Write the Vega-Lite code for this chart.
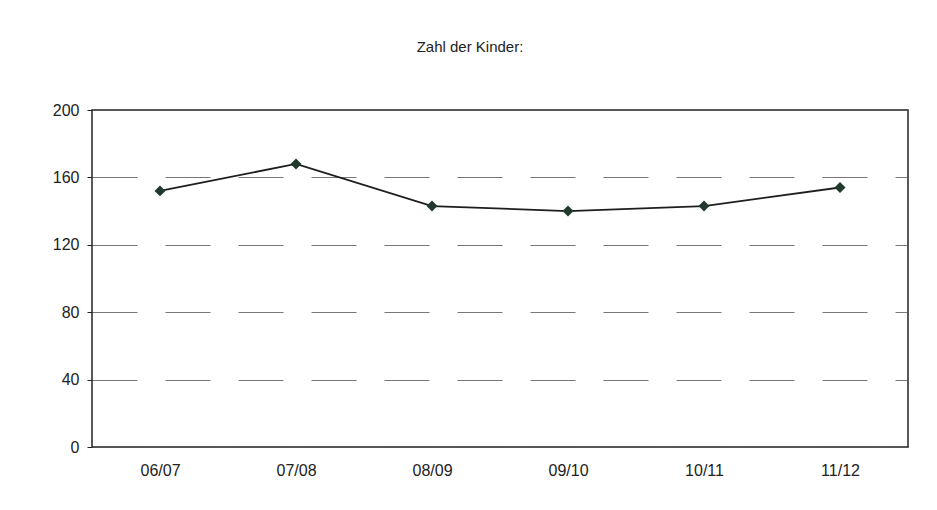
{
  "$schema": "https://vega.github.io/schema/vega-lite/v6.json",
  "autosize": "none",
  "width": 816,
  "height": 337,
  "padding": {"left": 92, "top": 110, "right": 29, "bottom": 63},
  "background": "white",
  "title": {
    "text": "Zahl der Kinder:",
    "font": "Liberation Sans",
    "fontSize": 15,
    "fontWeight": "normal",
    "color": "#222222",
    "offset": 47,
    "anchor": "middle",
    "dx": -30
  },
  "config": {
    "view": {"stroke": "#222222", "strokeWidth": 1.5},
    "font": "Liberation Sans"
  },
  "data": {
    "values": [
      {"Jahr": "06/07", "Kinder": 152},
      {"Jahr": "07/08", "Kinder": 168},
      {"Jahr": "08/09", "Kinder": 143},
      {"Jahr": "09/10", "Kinder": 140},
      {"Jahr": "10/11", "Kinder": 143},
      {"Jahr": "11/12", "Kinder": 154}
    ]
  },
  "encoding": {
    "x": {
      "field": "Jahr",
      "type": "nominal",
      "sort": null,
      "scale": {"paddingInner": 0, "paddingOuter": 0},
      "axis": {
        "title": null,
        "labelAngle": 0,
        "labelFontSize": 16,
        "labelColor": "#222222",
        "labelPadding": 15,
        "ticks": false,
        "domain": false,
        "grid": false
      }
    },
    "y": {
      "field": "Kinder",
      "type": "quantitative",
      "scale": {"domain": [0, 200]},
      "axis": {
        "title": null,
        "values": [0, 40, 80, 120, 160, 200],
        "labelFontSize": 16,
        "labelColor": "#222222",
        "labelPadding": 8,
        "tickSize": 5,
        "tickColor": "#222222",
        "domain": false,
        "grid": true,
        "gridColor": "#555555",
        "gridWidth": 1,
        "gridDash": [45, 28],
        "gridOpacity": 0.8
      }
    }
  },
  "layer": [
    {
      "mark": {"type": "line", "color": "#1e1e1e", "strokeWidth": 1.8}
    },
    {
      "mark": {"type": "point", "shape": "diamond", "filled": true, "size": 120, "color": "#1f3a2c", "opacity": 1}
    }
  ]
}
